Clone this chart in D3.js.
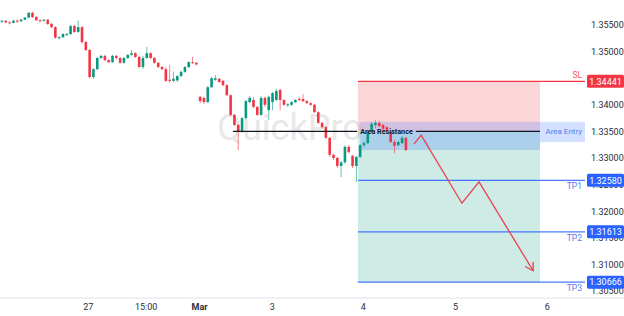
<!DOCTYPE html>
<html>
<head>
<meta charset="utf-8">
<script src="https://cdn.jsdelivr.net/npm/d3@7"></script>
<style>
  html, body { margin: 0; padding: 0; background: #fff; }
  #chart { width: 624px; height: 316px; }
  text { font-family: Roboto, "Liberation Sans", sans-serif; }
</style>
</head>
<body>
<div id="chart"></div>
<script>
// hourly candles, index 0 = first bar on the left
const opens = [1.3556, 1.3558, 1.3555, 1.3554, 1.3558, 1.3557, 1.3560, 1.3564, 1.3573, 1.3565,
  1.3559, 1.3558, 1.3560, 1.3552, 1.3546, 1.3526, 1.3527, 1.3532, 1.3533, 1.3548,
  1.3537, 1.3546, 1.3518, 1.3503, 1.3452, 1.3467, 1.3488, 1.3492, 1.3484, 1.3480,
  1.3492, 1.3488, 1.3479, 1.3488, 1.3494, 1.3497, 1.3490, 1.3471, 1.3488, 1.3497,
  1.3488, 1.3479, 1.3471, 1.3467, 1.3447, 1.3445, 1.3446, 1.3454, 1.3462, 1.3471,
  1.3480, 1.3479, 1.3415, 1.3413, 1.3405, 1.3433, 1.3447, 1.3449, 1.3445, 1.3437,
  1.3418, 1.3381, 1.3362, 1.3349, 1.3375, 1.3405, 1.3409, 1.3396, 1.3381, 1.3413,
  1.3390, 1.3405, 1.3409, 1.3428, 1.3409, 1.3399, 1.3400, 1.3405, 1.3411, 1.3411,
  1.3407, 1.3403, 1.3400, 1.3386, 1.3366, 1.3358, 1.3338, 1.3306, 1.3300, 1.3285,
  1.3292, 1.3321, 1.3304, 1.3285, 1.3302, 1.3324, 1.3328, 1.3349, 1.3362, 1.3366,
  1.3362, 1.3358, 1.3349, 1.3330, 1.3324, 1.3328, 1.3338];
const highs = [1.3560, 1.3559, 1.3557, 1.3560, 1.3561, 1.3562, 1.3565, 1.3574, 1.3575, 1.3567,
  1.3561, 1.3561, 1.3561, 1.3554, 1.3548, 1.3529, 1.3535, 1.3535, 1.3550, 1.3550,
  1.3558, 1.3548, 1.3520, 1.3505, 1.3469, 1.3490, 1.3494, 1.3494, 1.3486, 1.3494,
  1.3494, 1.3490, 1.3490, 1.3495, 1.3503, 1.3499, 1.3492, 1.3492, 1.3509, 1.3499,
  1.3490, 1.3480, 1.3473, 1.3471, 1.3475, 1.3462, 1.3456, 1.3464, 1.3473, 1.3482,
  1.3490, 1.3480, 1.3417, 1.3415, 1.3435, 1.3452, 1.3456, 1.3450, 1.3447, 1.3439,
  1.3420, 1.3383, 1.3364, 1.3377, 1.3409, 1.3417, 1.3415, 1.3398, 1.3417, 1.3415,
  1.3417, 1.3424, 1.3430, 1.3430, 1.3411, 1.3403, 1.3407, 1.3411, 1.3415, 1.3420,
  1.3409, 1.3405, 1.3402, 1.3388, 1.3368, 1.3360, 1.3339, 1.3308, 1.3302, 1.3294,
  1.3324, 1.3324, 1.3306, 1.3304, 1.3326, 1.3332, 1.3351, 1.3368, 1.3371, 1.3370,
  1.3364, 1.3360, 1.3351, 1.3334, 1.3332, 1.3341, 1.3339];
const lows = [1.3554, 1.3553, 1.3551, 1.3553, 1.3554, 1.3556, 1.3559, 1.3563, 1.3563, 1.3558,
  1.3555, 1.3556, 1.3550, 1.3544, 1.3524, 1.3523, 1.3526, 1.3529, 1.3531, 1.3535,
  1.3535, 1.3514, 1.3501, 1.3450, 1.3449, 1.3465, 1.3486, 1.3482, 1.3479, 1.3479,
  1.3485, 1.3477, 1.3477, 1.3486, 1.3492, 1.3488, 1.3469, 1.3467, 1.3486, 1.3486,
  1.3477, 1.3469, 1.3465, 1.3443, 1.3441, 1.3443, 1.3443, 1.3452, 1.3460, 1.3469,
  1.3477, 1.3474, 1.3403, 1.3402, 1.3403, 1.3432, 1.3445, 1.3441, 1.3435, 1.3417,
  1.3379, 1.3360, 1.3315, 1.3347, 1.3371, 1.3403, 1.3394, 1.3379, 1.3379, 1.3396,
  1.3371, 1.3390, 1.3407, 1.3390, 1.3398, 1.3396, 1.3398, 1.3403, 1.3407, 1.3405,
  1.3402, 1.3398, 1.3385, 1.3364, 1.3356, 1.3336, 1.3302, 1.3296, 1.3281, 1.3264,
  1.3289, 1.3309, 1.3281, 1.3255, 1.3300, 1.3321, 1.3326, 1.3347, 1.3356, 1.3358,
  1.3351, 1.3351, 1.3328, 1.3309, 1.3323, 1.3326, 1.3313];
const closes = [1.3558, 1.3555, 1.3554, 1.3558, 1.3557, 1.3560, 1.3564, 1.3573, 1.3565, 1.3559,
  1.3558, 1.3560, 1.3552, 1.3546, 1.3526, 1.3527, 1.3533, 1.3533, 1.3548, 1.3537,
  1.3546, 1.3518, 1.3503, 1.3452, 1.3467, 1.3488, 1.3492, 1.3484, 1.3480, 1.3492,
  1.3488, 1.3479, 1.3488, 1.3494, 1.3497, 1.3490, 1.3471, 1.3488, 1.3497, 1.3488,
  1.3479, 1.3471, 1.3467, 1.3445, 1.3445, 1.3449, 1.3454, 1.3462, 1.3471, 1.3480,
  1.3479, 1.3476, 1.3407, 1.3405, 1.3433, 1.3450, 1.3450, 1.3443, 1.3437, 1.3418,
  1.3381, 1.3362, 1.3349, 1.3375, 1.3407, 1.3413, 1.3396, 1.3381, 1.3413, 1.3400,
  1.3415, 1.3422, 1.3426, 1.3409, 1.3400, 1.3401, 1.3405, 1.3409, 1.3409, 1.3407,
  1.3403, 1.3400, 1.3386, 1.3366, 1.3358, 1.3338, 1.3306, 1.3300, 1.3285, 1.3292,
  1.3321, 1.3311, 1.3285, 1.3302, 1.3324, 1.3328, 1.3349, 1.3364, 1.3366, 1.3360,
  1.3355, 1.3353, 1.3330, 1.3323, 1.3330, 1.3338, 1.3315];

// time axis (bar index where each label sits)
const xTickIdx = [22.5, 37.7, 51.7, 70.8, 94.7, 118.9, 143];
const xTickLabels = ['27', '15:00', 'Mar', '3', '4', '5', '6'];
const yTicks = [1.305, 1.31, 1.315, 1.32, 1.325, 1.33, 1.335, 1.34, 1.345, 1.35, 1.355];

// trade plan drawn on top
const entryPrice = 1.3350;
const slPrice = 1.34441;
const tpPrices = [1.32580, 1.31613, 1.30666];
const tpNames = ['TP1', 'TP2', 'TP3'];
const positionIdx = [93.4, 141.2];
const entryAreaIdx = 94;
const entryArea = [1.3368, 1.3315];      // top / bottom of the zone
const entryLabelArea = [1.3368, 1.3330]; // part under the "Area Entry" text
const resistIdx = [60.6, 141.2];
const arrowIdx = [108.1, 110, 120.7, 125.2, 139.4];
const arrowPrice = [1.3326, 1.3343, 1.3215, 1.3255, 1.3088];

const chart = {};

chart.create = function(config){
  this.config = config;
  this.config.width_svg = 624;
  this.config.height_svg = 316;
  this.config.plot_right = 585;
  this.config.axis_top = 298;
  this.config.svg = d3.select(`#${config.target}`)
                      .append('svg')
                      .attr('width', this.config.width_svg)
                      .attr('height', this.config.height_svg)
                      .style('display', 'block');
}

chart.update = function(){
  let c = this.config,
      svg = c.svg;
  let data = opens.map((o, i) => ({i: i, o: o, h: highs[i], l: lows[i], c: closes[i]}));

  let xScale = d3.scaleLinear().domain([0, 153]).range([2, c.plot_right]);
  let yScale = d3.scaleLinear().domain([1.305, 1.355]).range([291, 25]);
  let red = '#f23645', green = '#089981', blue = '#2962ff';

  svg.append('rect').attr('width', c.width_svg).attr('height', c.height_svg).attr('fill', '#fff');

  // watermark
  svg.append('text')
     .attr('x', 290).attr('y', 140)
     .attr('text-anchor', 'middle')
     .attr('font-size', 36)
     .attr('fill', '#e8e8e8')
     .text('QuickPro');

  // risk / reward zones
  let zones = svg.append('g').attr('id', 'g_zones');
  zones.append('rect')
       .attr('x', xScale(positionIdx[0]))
       .attr('width', xScale(positionIdx[1]) - xScale(positionIdx[0]))
       .attr('y', yScale(slPrice))
       .attr('height', yScale(entryPrice) - yScale(slPrice))
       .attr('fill', red).attr('fill-opacity', 0.2);
  zones.append('rect')
       .attr('x', xScale(positionIdx[0]))
       .attr('width', xScale(positionIdx[1]) - xScale(positionIdx[0]))
       .attr('y', yScale(entryPrice))
       .attr('height', yScale(tpPrices[2]) - yScale(entryPrice))
       .attr('fill', green).attr('fill-opacity', 0.2);
  zones.append('rect')
       .attr('x', xScale(entryAreaIdx))
       .attr('width', xScale(positionIdx[1]) - xScale(entryAreaIdx))
       .attr('y', yScale(entryArea[0]))
       .attr('height', yScale(entryArea[1]) - yScale(entryArea[0]))
       .attr('fill', blue).attr('fill-opacity', 0.2);
  zones.append('rect')
       .attr('x', xScale(positionIdx[1]))
       .attr('width', c.plot_right - xScale(positionIdx[1]))
       .attr('y', yScale(entryLabelArea[0]))
       .attr('height', yScale(entryLabelArea[1]) - yScale(entryLabelArea[0]))
       .attr('fill', blue).attr('fill-opacity', 0.2);

  // candles
  let bw = 2.6;
  let candles = svg.append('g').attr('id', 'g_candles')
                   .selectAll('g')
                   .data(data)
                   .enter().append('g')
                   .attr('fill', d => d.c >= d.o ? green : red)
                   .attr('stroke', d => d.c >= d.o ? green : red);
  candles.append('line')
         .attr('x1', d => xScale(d.i)).attr('x2', d => xScale(d.i))
         .attr('y1', d => yScale(d.h)).attr('y2', d => yScale(d.l))
         .attr('stroke-width', 1)
         .attr('stroke-opacity', 0.6);
  candles.append('rect')
         .attr('stroke', 'none')
         .attr('x', d => xScale(d.i) - bw / 2)
         .attr('width', bw)
         .attr('y', d => yScale(Math.max(d.o, d.c)))
         .attr('height', d => Math.max(1, Math.abs(yScale(d.o) - yScale(d.c))));

  // resistance line with centred label
  let rx0 = xScale(resistIdx[0]), rx1 = xScale(resistIdx[1]), ry = yScale(entryPrice);
  let rText = svg.append('text')
                 .attr('x', (rx0 + rx1) / 2).attr('y', ry + 2.6)
                 .attr('text-anchor', 'middle')
                 .attr('font-size', 7.2)
                 .attr('font-weight', 'bold')
                 .attr('fill', '#131722')
                 .text('Area Resistance');
  let tw = rText.node().getComputedTextLength();
  let rl = svg.append('g').attr('stroke', '#131722').attr('stroke-width', 1.3);
  rl.append('line').attr('x1', rx0).attr('x2', (rx0 + rx1) / 2 - tw / 2 - 3).attr('y1', ry).attr('y2', ry);
  rl.append('line').attr('x1', (rx0 + rx1) / 2 + tw / 2 + 3).attr('x2', rx1).attr('y1', ry).attr('y2', ry);

  // stop and target lines
  svg.append('line')
     .attr('x1', xScale(positionIdx[0])).attr('x2', c.plot_right)
     .attr('y1', yScale(slPrice)).attr('y2', yScale(slPrice))
     .attr('stroke', red).attr('stroke-width', 1.2);
  svg.append('g').selectAll('line')
     .data(tpPrices)
     .enter().append('line')
     .attr('x1', xScale(positionIdx[0])).attr('x2', c.plot_right)
     .attr('y1', d => yScale(d)).attr('y2', d => yScale(d))
     .attr('stroke', blue).attr('stroke-opacity', 0.85).attr('stroke-width', 1.2);

  // projected path
  let pts = arrowIdx.map((d, i) => [xScale(d), yScale(arrowPrice[i])]);
  svg.append('path')
     .attr('d', d3.line()(pts))
     .attr('fill', 'none')
     .attr('stroke', '#e8404e')
     .attr('stroke-width', 1.3)
     .attr('stroke-linejoin', 'miter');
  let tip = pts[pts.length - 1], prev = pts[pts.length - 2];
  let ang = Math.atan2(tip[1] - prev[1], tip[0] - prev[0]);
  let head = [ang + Math.PI * 0.83, ang - Math.PI * 0.83].map(a => [tip[0] + 9 * Math.cos(a), tip[1] + 9 * Math.sin(a)]);
  svg.append('path')
     .attr('d', d3.line()([head[0], tip, head[1]]))
     .attr('fill', 'none')
     .attr('stroke', '#e8404e')
     .attr('stroke-width', 1.3);

  // line captions
  svg.append('text')
     .attr('x', 582).attr('y', yScale(slPrice) - 3.5)
     .attr('text-anchor', 'end').attr('font-size', 8.5)
     .attr('fill', '#f7525f')
     .text('SL');
  svg.append('g').selectAll('text')
     .data(tpPrices)
     .enter().append('text')
     .attr('x', 582).attr('y', d => yScale(d) + 9)
     .attr('text-anchor', 'end').attr('font-size', 8.5)
     .attr('fill', '#4f7cf0')
     .text((d, i) => tpNames[i]);
  svg.append('text')
     .attr('x', 582).attr('y', yScale(entryPrice) + 3)
     .attr('text-anchor', 'end').attr('font-size', 8)
     .attr('fill', '#4f7cf0')
     .text('Area Entry');

  // price axis
  let yAxis = g => g.attr('transform', `translate(${c.plot_right + 4}, 0)`)
                    .call(d3.axisRight(yScale).tickValues(yTicks).tickFormat(d3.format('.5f')).tickSize(0))
                    .call(g => g.select('.domain').remove())
                    .call(g => g.selectAll('.tick text')
                                .attr('x', 2)
                                .attr('fill', '#2a2e39')
                                .attr('font-size', 9)
                                .attr('font-family', 'Roboto, sans-serif'));
  svg.append('g').attr('id', 'g_yAxis').call(yAxis);

  // price boxes on the axis
  let boxes = [{p: slPrice, col: red}].concat(tpPrices.map(p => ({p: p, col: blue})));
  let bx = svg.append('g').selectAll('g')
              .data(boxes)
              .enter().append('g');
  bx.append('rect')
    .attr('x', c.plot_right + 2).attr('width', 37)
    .attr('y', d => yScale(d.p) - 6.5).attr('height', 13)
    .attr('rx', 1.5)
    .attr('fill', d => d.col);
  bx.append('text')
    .attr('x', c.plot_right + 20.5).attr('y', d => yScale(d.p) + 3.2)
    .attr('text-anchor', 'middle')
    .attr('font-size', 9)
    .attr('fill', '#fff')
    .text(d => d3.format('.5f')(d.p));

  // time axis
  svg.append('line')
     .attr('x1', 0).attr('x2', c.width_svg)
     .attr('y1', c.axis_top).attr('y2', c.axis_top)
     .attr('stroke', '#e0e3eb');
  let xAxis = g => g.attr('transform', `translate(0, ${c.axis_top})`)
                    .call(d3.axisBottom(xScale).tickValues(xTickIdx).tickFormat((d, i) => xTickLabels[i]).tickSize(0))
                    .call(g => g.select('.domain').remove())
                    .call(g => g.selectAll('.tick text')
                                .attr('y', 6)
                                .attr('fill', '#2a2e39')
                                .attr('font-size', 9)
                                .attr('font-family', 'Roboto, sans-serif')
                                .attr('font-weight', (d, i) => xTickLabels[i] === 'Mar' ? 'bold' : 'normal'));
  svg.append('g').attr('id', 'g_xAxis').call(xAxis);
}

chart.create({target: 'chart'});
chart.update();
</script>
</body>
</html>
